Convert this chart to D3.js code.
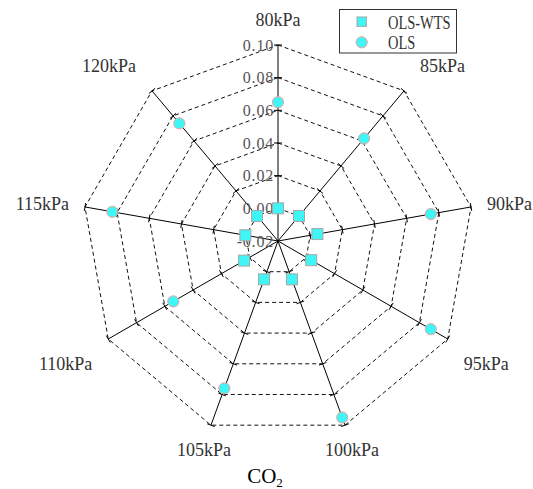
<!DOCTYPE html>
<html>
<head>
<meta charset="utf-8">
<script src="https://cdn.jsdelivr.net/npm/d3@7"></script>
<style>
  html, body { margin: 0; padding: 0; background: #fff; }
  svg { display: block; }
</style>
</head>
<body>
<svg id="chart" width="533" height="489"></svg>
<script>
// Pressure levels (one spoke each, clockwise from the top)
const categories = ["80kPa", "85kPa", "90kPa", "95kPa", "100kPa", "105kPa", "110kPa", "115kPa", "120kPa"];
// Series values per pressure level
const olsWts = [0.000, 0.000, 0.0045, 0.0035, 0.005, 0.005, 0.004, 0.0003, 0.000];
const ols    = [0.065, 0.062, 0.075, 0.088, 0.095, 0.076, 0.054, 0.083, 0.074];
// Radial tick values
const radialTicks = [-0.02, 0.00, 0.02, 0.04, 0.06, 0.08, 0.10];
const seriesNames = ["OLS-WTS", "OLS"];
const titleMain = "CO";
const titleSub = "2";

const cx = 278, cy = 241, R = 196;
const serif = "'Liberation Serif', 'DejaVu Serif', serif";
const fillColor = "#3ff5f5";

const svg = d3.select("#chart");

const r = d3.scaleLinear().domain([radialTicks[0], radialTicks[radialTicks.length - 1]]).range([0, R]);
const ang = d3.scaleLinear().domain([0, categories.length]).range([0, 2 * Math.PI]);

const pt = (i, v) => {
  const a = ang(i), rr = r(v);
  return [cx + rr * Math.sin(a), cy - rr * Math.cos(a)];
};

const ringLine = d3.line().curve(d3.curveLinearClosed);

// Dashed grid rings
const ringVals = radialTicks.filter(t => t > radialTicks[0]);
svg.append("g")
  .selectAll("path")
  .data(ringVals)
  .join("path")
  .attr("d", v => ringLine(categories.map((c, i) => pt(i, v))))
  .attr("fill", "none")
  .attr("stroke", "#111")
  .attr("stroke-width", 1)
  .attr("stroke-dasharray", "4,3");

// Spokes
const vMax = radialTicks[radialTicks.length - 1];
svg.append("g")
  .selectAll("line")
  .data(categories)
  .join("line")
  .attr("x1", cx).attr("y1", cy)
  .attr("x2", (c, i) => pt(i, vMax)[0])
  .attr("y2", (c, i) => pt(i, vMax)[1])
  .attr("stroke", "#000")
  .attr("stroke-width", 1);

// Small tick marks across each spoke at every ring
const tickData = [];
categories.forEach((c, i) => ringVals.forEach(v => tickData.push({ i, v })));
svg.append("g")
  .selectAll("line")
  .data(tickData)
  .join("line")
  .each(function (d) {
    const [x, y] = pt(d.i, d.v);
    const a = ang(d.i);
    const px = Math.cos(a) * 4, py = Math.sin(a) * 4;
    d3.select(this)
      .attr("x1", x - px).attr("y1", y - py)
      .attr("x2", x + px).attr("y2", y + py);
  })
  .attr("stroke", "#000")
  .attr("stroke-width", 1);

// Radial tick labels along the top spoke
const fmt = v => d3.format(".2f")(v).replace("\u2212", "-");
svg.append("g")
  .selectAll("text")
  .data(radialTicks)
  .join("text")
  .attr("x", cx - 4)
  .attr("y", v => pt(0, v)[1])
  .attr("dy", "0.35em")
  .attr("text-anchor", "end")
  .attr("font-family", serif)
  .attr("font-size", 16)
  .attr("letter-spacing", 0.8)
  .attr("fill", "#555")
  .text(fmt);

// Spoke labels: text box placed just outside the end of each spoke
const padX = 16, padY = 18, boxH = 14;
svg.append("g")
  .selectAll("text")
  .data(categories)
  .join("text")
  .attr("dy", "0.35em")
  .attr("text-anchor", "middle")
  .attr("font-family", serif)
  .attr("font-size", 18)
  .attr("fill", "#333")
  .text(c => c)
  .each(function (c, i) {
    const a = ang(i);
    const s = Math.sin(a), co = Math.cos(a);
    const [ex, ey] = pt(i, vMax);
    const w = this.getComputedTextLength();
    const x = ex + (Math.abs(s) > 0.5 ? Math.sign(s) * (padX + w / 2) : s * 20);
    const y = ey + (Math.abs(co) > 0.3 ? -Math.sign(co) * (padY + boxH / 2) : -3);
    d3.select(this).attr("x", x).attr("y", y);
  });

// OLS-WTS squares
const sq = 11;
svg.append("g")
  .selectAll("rect")
  .data(olsWts)
  .join("rect")
  .attr("x", (v, i) => pt(i, v)[0] - sq / 2)
  .attr("y", (v, i) => pt(i, v)[1] - sq / 2)
  .attr("width", sq).attr("height", sq)
  .attr("fill", fillColor)
  .attr("stroke", "#a8a8a8")
  .attr("stroke-width", 1);

// OLS circles
svg.append("g")
  .selectAll("circle")
  .data(ols)
  .join("circle")
  .attr("cx", (v, i) => pt(i, v)[0])
  .attr("cy", (v, i) => pt(i, v)[1])
  .attr("r", 5.6)
  .attr("fill", fillColor)
  .attr("stroke", "#f2a0a0")
  .attr("stroke-width", 1);

// Legend
const lg = svg.append("g");
lg.append("rect")
  .attr("x", 339.5).attr("y", 9.5).attr("width", 117).attr("height", 43.5)
  .attr("fill", "#fff").attr("stroke", "#333").attr("stroke-width", 1);
lg.append("rect")
  .attr("x", 361.7 - 4.7).attr("y", 21.7 - 4.7).attr("width", 9.4).attr("height", 9.4)
  .attr("fill", fillColor).attr("stroke", "#a8a8a8").attr("stroke-width", 1);
lg.append("circle")
  .attr("cx", 361.7).attr("cy", 42.3).attr("r", 5.6)
  .attr("fill", fillColor).attr("stroke", "#f2a0a0").attr("stroke-width", 1);
lg.selectAll("text.lt")
  .data(seriesNames)
  .join("text")
  .attr("class", "lt")
  .attr("x", 388)
  .attr("y", (d, i) => 21.7 + i * 20.6)
  .attr("dy", "0.36em")
  .attr("font-family", serif)
  .attr("font-size", 19)
  .attr("fill", "#333")
  .text(d => d)
  .each(function () {
    const w = this.getComputedTextLength();
    d3.select(this).attr("textLength", w * 0.76).attr("lengthAdjust", "spacingAndGlyphs");
  });

// Title with subscript
const title = svg.append("text")
  .attr("x", 265)
  .attr("y", 483)
  .attr("text-anchor", "middle")
  .attr("font-family", serif)
  .attr("font-size", 21)
  .attr("fill", "#000");
title.append("tspan").text(titleMain);
title.append("tspan").attr("font-size", 13).attr("dy", 4).text(titleSub);
</script>
</body>
</html>
